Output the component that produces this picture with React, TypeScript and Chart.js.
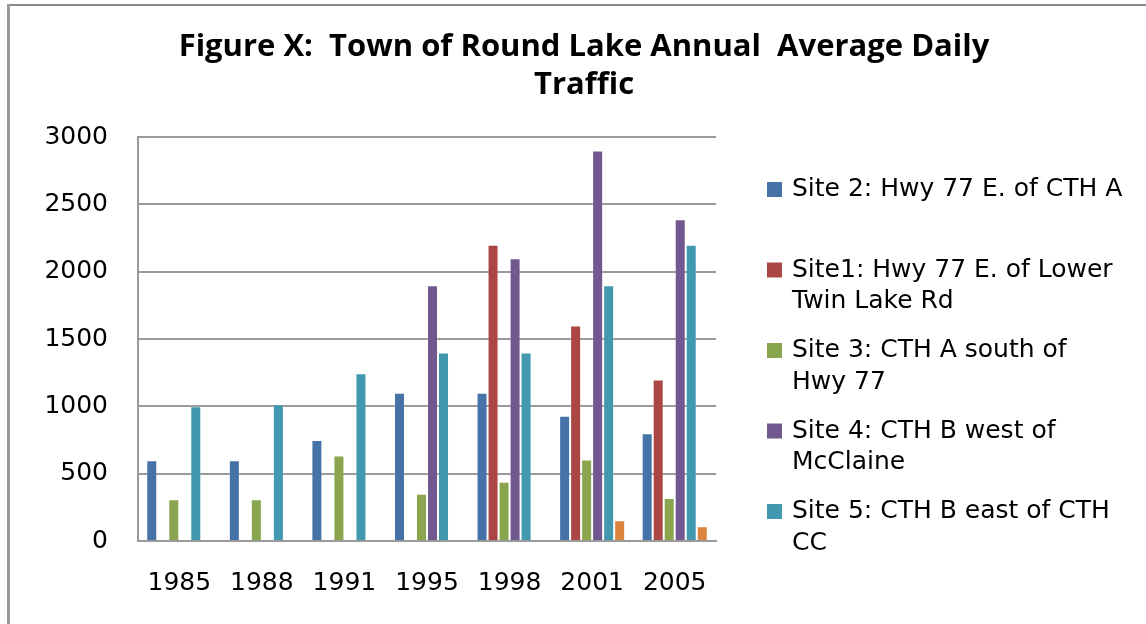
import React, { useEffect, useRef } from "react";
import { Chart, registerables } from "chart.js";

Chart.register(...registerables);

const categories = ["1985", "1988", "1991", "1995", "1998", "2001", "2005"];
const site2 = [600, 600, 750, 1100, 1100, 930, 800];
const site1 = [null, null, null, null, 2200, 1600, 1200];
const site3 = [310, 310, 635, 350, 440, 605, 320];
const site4 = [null, null, null, 1900, 2100, 2900, 2390];
const site5 = [1000, 1015, 1245, 1400, 1400, 1900, 2200];
const site6 = [null, null, null, null, null, 155, 110];

const seriesNames = [
  "Site 2: Hwy 77 E. of CTH A",
  "Site1: Hwy 77 E. of Lower Twin Lake Rd",
  "Site 3: CTH A south of Hwy 77",
  "Site 4: CTH B west of McClaine",
  "Site 5: CTH B east of CTH CC",
  "Site 6",
];
const legendLines = [
  ["Site 2: Hwy 77 E. of CTH A"],
  ["Site1: Hwy 77 E. of Lower", "Twin Lake Rd"],
  ["Site 3: CTH A south of", "Hwy 77"],
  ["Site 4: CTH B west of", "McClaine"],
  ["Site 5: CTH B east of CTH", "CC"],
];
const titleLines = ["Figure X:  Town of Round Lake Annual  Average Daily", "Traffic"];
const colors = ["#4572A7", "#AA4643", "#89A54E", "#71588F", "#4198AF", "#DB843D"];

const FONT = "'DejaVu Sans', sans-serif";

const decorPlugin = {
  id: "decor",
  beforeDraw(chart: any) {
    const ctx = chart.ctx;
    ctx.save();
    ctx.fillStyle = "#ffffff";
    ctx.fillRect(0, 0, chart.width, chart.height);
    ctx.fillStyle = "#8a8a8a";
    ctx.fillRect(7, 4, chart.width - 7, 2);
    ctx.fillStyle = "#999999";
    ctx.fillRect(7, 4, 3, chart.height - 4);
    ctx.restore();
  },
  afterDraw(chart: any) {
    const ctx = chart.ctx;
    ctx.save();
    ctx.fillStyle = "#000000";
    ctx.font = "bold 31px 'Open Sans', sans-serif";
    ctx.textAlign = "center";
    ctx.textBaseline = "middle";
    titleLines.forEach((t, i) => ctx.fillText(t, 584, 47 + i * 38));
    ctx.font = "25px " + FONT;
    ctx.textAlign = "left";
    legendLines.forEach((lines, i) => {
      const cy = 189.5 + i * 80.5;
      ctx.fillStyle = colors[i];
      ctx.fillRect(767, cy - 7.5, 15, 15);
      ctx.fillStyle = "#000000";
      lines.forEach((ln, j) => ctx.fillText(ln, 792, cy + j * 31.7));
    });
    ctx.restore();
  },
};

export default function App() {
  const ref = useRef<HTMLCanvasElement | null>(null);
  useEffect(() => {
    if (!ref.current) return;
    const data = [site2, site1, site3, site4, site5, site6];
    const chart = new Chart(ref.current, {
      type: "bar",
      data: {
        labels: categories,
        datasets: data.map((d, i) => ({
          label: seriesNames[i],
          data: d,
          backgroundColor: colors[i],
          borderColor: "rgba(255,255,255,0.2)",
          borderWidth: 1,
          categoryPercentage: 0.8,
          barPercentage: 1.0,
        })),
      },
      options: {
        responsive: false,
        animation: false,
        layout: { padding: { top: 137, right: 430, bottom: 0, left: 0 } },
        plugins: {
          legend: { display: false },
          title: { display: false },
          tooltip: { enabled: false },
        },
        scales: {
          x: {
            grid: { display: false, drawTicks: false },
            border: { display: true, color: "#9a9a9a", width: 2 },
            ticks: { color: "#000", font: { family: FONT, size: 25 }, padding: 27, maxRotation: 0 },
            afterFit: (s: any) => { s.height = 83; },
          },
          y: {
            min: 0,
            max: 3000,
            ticks: {
              stepSize: 500,
              color: "#000",
              font: { family: FONT, size: 25 },
              padding: 30,
              callback: (v: any) => String(v),
            },
            grid: { color: "#9a9a9a", lineWidth: 2, drawTicks: false },
            border: { display: true, color: "#9a9a9a", width: 2 },
            afterFit: (s: any) => { s.width = 138; },
          },
        },
      },
      plugins: [decorPlugin],
    });
    return () => chart.destroy();
  }, []);
  return (
    <div style={{ position: "fixed", left: 0, top: 0, width: 1146, height: 624 }}>
      <canvas ref={ref} width={1146} height={624} />
    </div>
  );
}
